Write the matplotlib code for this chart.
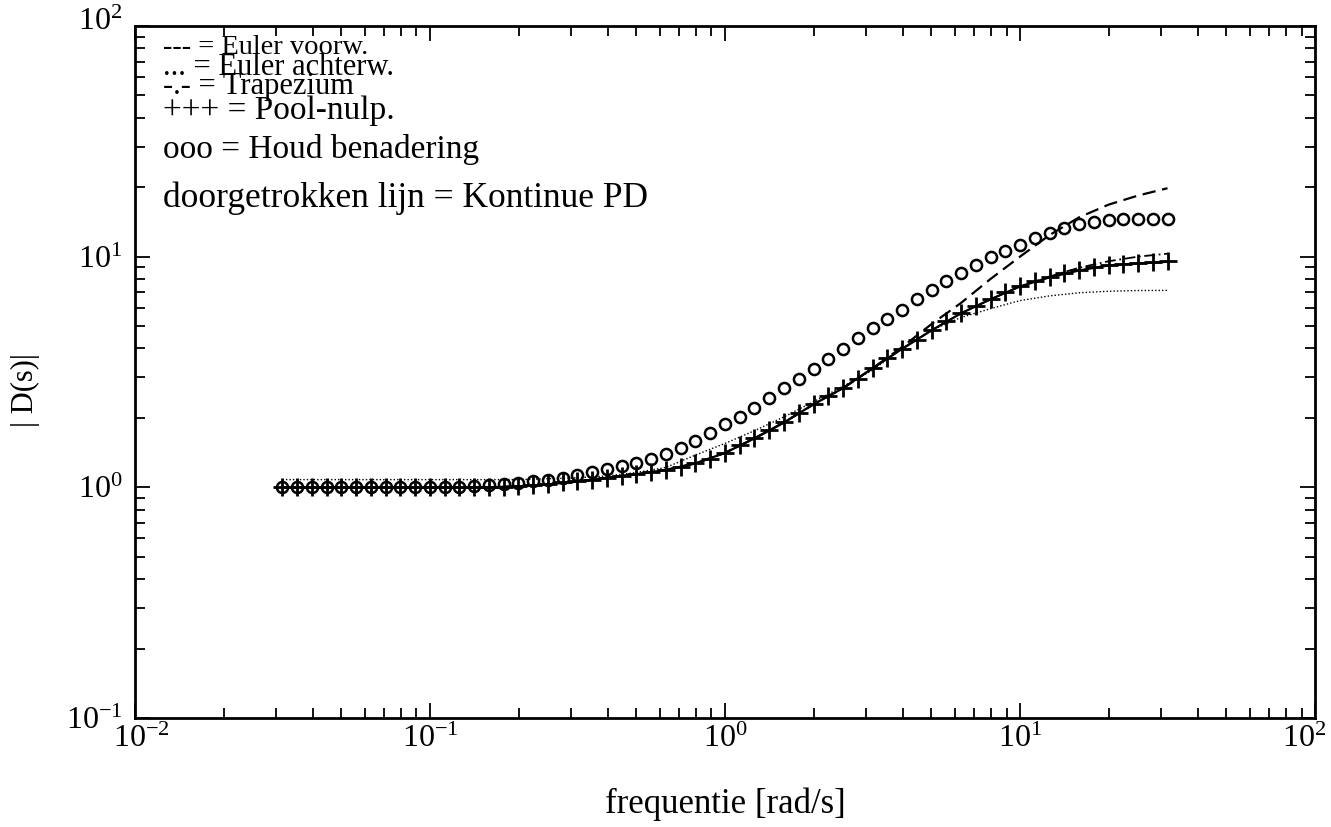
import matplotlib
matplotlib.use("Agg")
import numpy as np
import matplotlib.pyplot as plt
import matplotlib.transforms as mtransforms
from matplotlib.ticker import LogLocator, NullFormatter

plt.rcParams["font.family"] = ["Liberation Serif", "DejaVu Serif"]
plt.rcParams["mathtext.fontset"] = "custom"
plt.rcParams["mathtext.rm"] = "Liberation Serif"

# frequency grid of the marker series (log10 of rad/s)
FREQ_EXP = [-1.50, -1.45, -1.40, -1.35, -1.30, -1.25, -1.20, -1.15, -1.10, -1.05,
            -1.00, -0.95, -0.90, -0.85, -0.80, -0.75, -0.70, -0.65, -0.60, -0.55,
            -0.50, -0.45, -0.40, -0.35, -0.30, -0.25, -0.20, -0.15, -0.10, -0.05,
            0.00, 0.05, 0.10, 0.15, 0.20, 0.25, 0.30, 0.35, 0.40, 0.45,
            0.50, 0.55, 0.60, 0.65, 0.70, 0.75, 0.80, 0.85, 0.90, 0.95,
            1.00, 1.05, 1.10, 1.15, 1.20, 1.25, 1.30, 1.35, 1.40, 1.45, 1.50]

houd = [1.00, 1.00, 1.00, 1.00, 1.00, 1.00, 1.00, 1.00, 1.00, 1.00, 1.00, 1.00, 1.00,
        1.01, 1.02, 1.03, 1.04, 1.06, 1.08, 1.10, 1.13, 1.16, 1.20, 1.24, 1.28, 1.33,
        1.40, 1.48, 1.58, 1.72, 1.88, 2.02, 2.21, 2.43, 2.69, 2.95, 3.27, 3.59, 3.98,
        4.42, 4.90, 5.37, 5.89, 6.53, 7.16, 7.85, 8.51, 9.23, 10.0, 10.6, 11.2, 12.0,
        12.7, 13.3, 13.8, 14.1, 14.4, 14.5, 14.6, 14.6, 14.6]

pool_nulp = [1.00, 1.00, 1.00, 1.00, 1.00, 1.00, 1.00, 1.00, 1.00, 1.00, 1.00, 1.00,
             1.00, 1.00, 1.00, 1.00, 1.01, 1.02, 1.03, 1.05, 1.06, 1.08, 1.10, 1.12,
             1.14, 1.16, 1.19, 1.23, 1.27, 1.33, 1.41, 1.52, 1.63, 1.77, 1.91, 2.09,
             2.29, 2.48, 2.69, 2.96, 3.28, 3.62, 3.98, 4.37, 4.79, 5.25, 5.68, 6.10,
             6.53, 7.00, 7.43, 7.82, 8.13, 8.47, 8.71, 8.99, 9.16, 9.27, 9.35, 9.44, 9.55]

# line series are sampled on every second grid point
kontinue = [1.00, 1.00, 1.00, 1.00, 1.00, 1.00, 1.00, 1.00, 1.01, 1.03, 1.06, 1.10,
            1.14, 1.19, 1.27, 1.41, 1.63, 1.91, 2.29, 2.69, 3.28, 3.98, 4.79, 5.68,
            6.53, 7.43, 8.13, 8.71, 9.16, 9.35, 9.50]
euler_voorw = [1.00, 1.00, 1.00, 1.00, 1.00, 1.00, 1.00, 1.00, 1.01, 1.03, 1.06, 1.10,
               1.14, 1.19, 1.27, 1.41, 1.63, 1.91, 2.29, 2.69, 3.28, 4.05, 5.10, 6.30,
               8.00, 10.0, 12.4, 14.8, 16.8, 18.4, 19.8]
euler_achterw = [1.08, 1.08, 1.08, 1.08, 1.08, 1.08, 1.08, 1.08, 1.08, 1.09, 1.10, 1.12,
                 1.16, 1.22, 1.38, 1.55, 1.76, 2.02, 2.35, 2.74, 3.22, 4.00, 4.80, 5.45,
                 5.95, 6.45, 6.76, 6.97, 7.08, 7.13, 7.14]
trapezium = [1.00, 1.00, 1.00, 1.00, 1.00, 1.00, 1.00, 1.00, 1.01, 1.03, 1.06, 1.10,
             1.14, 1.19, 1.27, 1.41, 1.63, 1.91, 2.29, 2.69, 3.28, 3.98, 4.79, 5.68,
             6.53, 7.43, 8.20, 8.95, 9.55, 10.0, 10.3]

legend_lines = ["--- = Euler voorw.", "... = Euler achterw.", "-.- = Trapezium",
                "+++ = Pool-nulp.", "ooo = Houd benadering",
                "doorgetrokken lijn = Kontinue PD"]
legend_y = [81, 66, 54.5, 43, 29, 18]
legend_size = [20.5, 22, 22, 24, 24, 25.5]

freq = 10.0 ** np.array(FREQ_EXP)
freq_line = freq[::2]

fig = plt.figure(figsize=(13.31, 8.27), dpi=100)
ax = fig.add_axes([0.1014, 0.1318, 0.8866, 0.8368])

ax.plot(freq_line, kontinue, color="black", lw=1.6)
ax.plot(freq_line, euler_voorw, color="black", lw=1.6, ls=(0, (6, 3)))
ax.plot(freq_line, euler_achterw, color="black", lw=1.0, ls=(0, (1, 1.5)))
ax.plot(freq_line, trapezium, color="black", lw=1.3, ls=(0, (6, 2, 1, 2)))
ax.plot(freq, houd, ls="none", marker="o", ms=8, mfc="none", mec="black", mew=1.8)
ax.plot(freq, pool_nulp, ls="none", marker="+", ms=13, mec="black", mew=2.0)

ax.set_xscale("log")
ax.set_yscale("log")
ax.set_xlim(1e-2, 1e2)
ax.set_ylim(1e-1, 1e2)

for axis in (ax.xaxis, ax.yaxis):
    axis.set_major_locator(LogLocator(base=10, numticks=10))
    axis.set_minor_locator(LogLocator(base=10, subs=np.arange(2, 10), numticks=10))
    axis.set_minor_formatter(NullFormatter())
ax.tick_params(which="both", direction="in", top=True, right=True, width=1.3,
               labelsize=23)
ax.tick_params(axis="x", which="major", pad=5)
ax.tick_params(axis="y", which="major", pad=9)
ax.tick_params(which="major", length=11)
ax.tick_params(which="minor", length=7)
for sp in ax.spines.values():
    sp.set_linewidth(2.0)

# the end labels sit slightly inward, as in the original print
fig.canvas.draw()
xlabels = ax.get_xticklabels()
shift_left = mtransforms.ScaledTranslation(-11 / 100, 0, fig.dpi_scale_trans)
shift_right = mtransforms.ScaledTranslation(6 / 100, 0, fig.dpi_scale_trans)
for lab in xlabels:
    if lab.get_position()[0] >= 99:
        lab.set_transform(lab.get_transform() + shift_left)
    elif 0 < lab.get_position()[0] <= 0.0101:
        lab.set_transform(lab.get_transform() + shift_right)
ylabels = ax.get_yticklabels()
shift_up = mtransforms.ScaledTranslation(0, 7 / 100, fig.dpi_scale_trans)
for lab in ylabels:
    if lab.get_position()[1] >= 99:
        lab.set_transform(lab.get_transform() + shift_up)

for txt, yv, fs in zip(legend_lines, legend_y, legend_size):
    ax.text(0.0124, yv, txt, fontsize=fs, va="center", ha="left")

ax.set_xlabel("frequentie [rad/s]", fontsize=25, labelpad=24)
fig.text(0.019, 1 - 390 / 827, "| D(s)|", rotation=90, fontsize=22,
         ha="center", va="center")

fig.savefig("out.png", dpi=100)
